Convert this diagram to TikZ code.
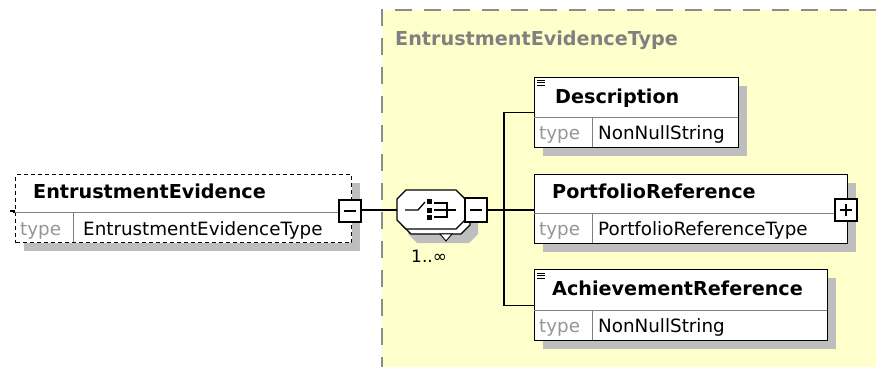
\documentclass[tikz,border=0pt]{standalone}
\usepackage{fontspec}
\setmainfont{DejaVu Sans}
\usetikzlibrary{shadows,calc}
\definecolor{ybg}{RGB}{255,255,204}
\definecolor{shad}{RGB}{190,190,190}
\definecolor{bord}{RGB}{140,140,140}
\definecolor{divc}{RGB}{128,128,128}
\definecolor{typec}{RGB}{150,150,150}
\newcommand\myNameFont{\bfseries\fontsize{19.2}{22}\selectfont}
\newcommand\myTypeFont{\fontsize{18.3}{21}\selectfont}
\newcommand\myOct[4]{(#1+9,#2) -- (#3-9,#2) -- (#3,#2+9) -- (#3,#4-9) -- (#3-9,#4) -- (#1+9,#4) -- (#1,#4-9) -- (#1,#2+9) -- cycle}
\tikzset{
  shd/.style={drop shadow={shadow xshift=8pt, shadow yshift=-8pt, fill=shad, opacity=1}},
  elbox/.style={draw=black, line width=1.4pt, fill=white, anchor=north west, inner sep=0pt, shd},
  optbox/.style={elbox, dash pattern=on 4pt off 3pt},
  divline/.style={draw=divc, line width=0.9pt},
  nametxt/.style={anchor=base west, inner sep=0pt, font=\myNameFont},
  typetxt/.style={anchor=base west, inner sep=0pt, font=\myTypeFont, text=typec},
  valtxt/.style={anchor=base west, inner sep=0pt, font=\myTypeFont},
  togglebox/.style={draw=black, line width=1.8pt, fill=white, minimum width=22pt, minimum height=22pt, inner sep=0pt},
  conn/.style={draw=black, line width=1.2pt},
  octline/.style={draw=black, line width=1.1pt, fill=white},
}
\begin{document}
\begin{tikzpicture}[x=1pt,y=-1pt]
\useasboundingbox (0,0) rectangle (876,367);
% complex type area
\fill[ybg] (382,10) rectangle (876,367);
\draw[bord, line width=2pt, dash pattern=on 17pt off 12pt] (876,10) -- (382,10) -- (382,367);
\node[anchor=base west, inner sep=0pt, font=\myNameFont, text=divc] (title) at (395,45) {EntrustmentEvidenceType};

% left element
\node[optbox, minimum width=336pt, minimum height=68pt] (lbox) at (15,174) {};
\draw[divline] (15,212) -- (351,212);
\draw[divline] (73,212) -- (73,242);
\node[nametxt] (lname) at (33,198) {EntrustmentEvidence};
\node[typetxt] (ltype) at (20,235) {type};
\node[valtxt] (lval) at (83,235) {EntrustmentEvidenceType};
\coordinate (lstub) at (10,211);
\draw[conn] (lstub) -- (14,211) -- (14,213);
\node[togglebox] (lminus) at (350,211) {};
\draw[line width=1.4pt] (344,211) -- (356,211);

% compositor
\node[minimum width=68pt, minimum height=39pt, inner sep=0pt] (comp) at (431,210) {};
\fill[shad] \myOct{408}{203}{478}{243};
\draw[octline] \myOct{402}{195}{470}{234};
\draw[fill=white, line width=0.9pt] (440,234) -- (452,234) -- (446,241) -- cycle;
\draw[octline] \myOct{397}{190}{465}{229};
% icon
\draw[line width=1.3pt] (405,210) -- (418,210) -- (425,202);
\fill (427,199) rectangle (432,204);
\fill (427,207.5) rectangle (432,212.5);
\fill (427,215) rectangle (432,220);
\draw[line width=1.1pt] (434,203) -- (447,203) -- (447,217) -- (434,217);
\draw[line width=1.1pt] (434,210) -- (456,210);
\node[togglebox, minimum height=24pt] (cminus) at (476,210) {};
\draw[line width=1.4pt] (470,210) -- (482,210);
\node[anchor=base west, inner sep=0pt, font=\fontsize{17}{20}\selectfont] (card) at (411,262) {1..∞};

% connectors
\draw[conn] (lminus.east |- comp.west) -- (comp.west);
\coordinate (junc) at (504,210);
\draw[conn] (cminus.east) -- (junc);

% Description
\node[elbox, minimum width=204pt, minimum height=70pt] (desc) at (534,77) {};
\draw[divline] (534,117) -- (738,117);
\draw[divline] (592,117) -- (592,147);
\draw[line width=0.8pt] (537,80) -- (545,80) (537,82.5) -- (545,82.5) (537,85) -- (545,85);
\node[nametxt] (dname) at (555,103) {Description};
\node[typetxt] (dtype) at (539,139) {type};
\node[valtxt] (dval) at (598,139) {NonNullString};

% PortfolioReference
\node[elbox, minimum width=313pt, minimum height=69pt] (port) at (534,174) {};
\draw[divline] (534,213) -- (847,213);
\draw[divline] (592,213) -- (592,243);
\node[nametxt] (pname) at (552,198) {PortfolioReference};
\node[typetxt] (ptype) at (539,235) {type};
\node[valtxt] (pval) at (598,235) {PortfolioReferenceType};
\node[togglebox] (pplus) at (846,210) {};
\draw[line width=1.4pt] (840,210) -- (852,210) (846,204) -- (846,216);

% AchievementReference
\node[elbox, minimum width=293pt, minimum height=71pt] (ach) at (534,269) {};
\draw[divline] (534,310) -- (827,310);
\draw[divline] (592,310) -- (592,340);
\draw[line width=0.8pt] (537,273) -- (545,273) (537,275.5) -- (545,275.5) (537,278) -- (545,278);
\node[nametxt] (aname) at (552,295) {AchievementReference};
\node[typetxt] (atype) at (539,332) {type};
\node[valtxt] (aval) at (598,332) {NonNullString};

% tree connectors
\draw[conn] (desc.west) -| (junc) |- (ach.west);
\draw[conn] (junc) -- (port.west |- junc);
\end{tikzpicture}
\end{document}
